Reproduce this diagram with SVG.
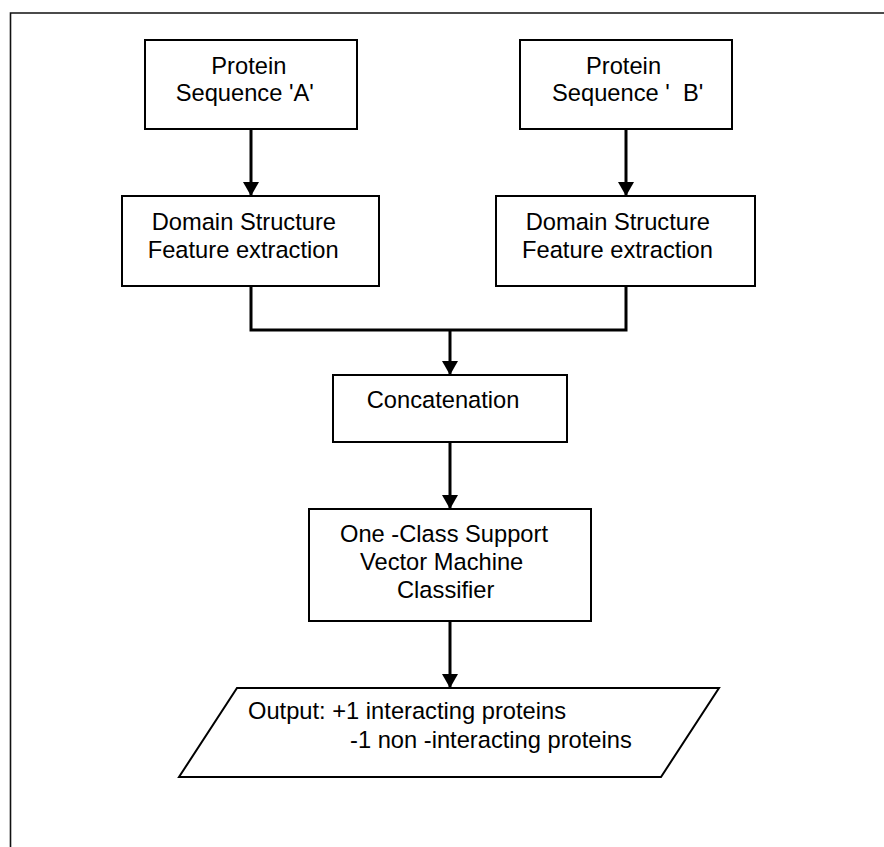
<svg xmlns="http://www.w3.org/2000/svg" width="884" height="847" viewBox="0 0 884 847">
  <style>
    .box { fill: #fff; stroke: #000; stroke-width: 2; }
    .lbl { font-family: "Liberation Sans", Arial, sans-serif; font-size: 23.7px; fill: #000; }
    .wire { fill: none; stroke: #000; stroke-width: 3; }
    .frame { fill: none; stroke: #111; stroke-width: 1.6; }
  </style>
  <defs>
    <marker id="arrow" markerUnits="userSpaceOnUse" markerWidth="14" markerHeight="16" refX="14" refY="8" orient="auto">
      <path d="M0,0 L14,8 L0,16 z" fill="#000"/>
    </marker>
  </defs>

  <rect x="0" y="0" width="884" height="847" fill="#fff"/>
  <!-- outer frame (open to the right and bottom) -->
  <path class="frame" d="M10.5,847 V13 H884"/>

  <!-- connectors -->
  <g id="connectors">
    <line class="wire" x1="251" y1="130" x2="251" y2="196" marker-end="url(#arrow)"/>
    <line class="wire" x1="626" y1="130" x2="626" y2="196" marker-end="url(#arrow)"/>
    <path class="wire" d="M251,286 V330 H626 V286"/>
    <line class="wire" x1="450" y1="330" x2="450" y2="375" marker-end="url(#arrow)"/>
    <line class="wire" x1="450" y1="442" x2="450" y2="509" marker-end="url(#arrow)"/>
    <line class="wire" x1="450" y1="621" x2="450" y2="688" marker-end="url(#arrow)"/>
  </g>

  <g id="seqA">
    <rect class="box" x="145" y="40" width="212" height="89"/>
    <text class="lbl" x="211.3" y="73.5">Protein</text>
    <text class="lbl" x="175.7" y="101.3">Sequence 'A'</text>
  </g>

  <g id="seqB">
    <rect class="box" x="520" y="40" width="212" height="89"/>
    <text class="lbl" x="586" y="73.5">Protein</text>
    <text class="lbl" x="552" y="101.3" xml:space="preserve">Sequence '  B'</text>
  </g>

  <g id="featA">
    <rect class="box" x="122" y="196" width="257" height="90"/>
    <text class="lbl" x="151.7" y="230">Domain Structure</text>
    <text class="lbl" x="147.7" y="258">Feature extraction</text>
  </g>

  <g id="featB">
    <rect class="box" x="496" y="196" width="259" height="90"/>
    <text class="lbl" x="525.7" y="230">Domain Structure</text>
    <text class="lbl" x="522" y="258">Feature extraction</text>
  </g>

  <g id="concat">
    <rect class="box" x="333" y="375" width="234" height="67"/>
    <text class="lbl" x="366.7" y="408">Concatenation</text>
  </g>

  <g id="svm">
    <rect class="box" x="309" y="509" width="282" height="112"/>
    <text class="lbl" x="340" y="541.7">One -Class Support</text>
    <text class="lbl" x="360" y="570">Vector Machine</text>
    <text class="lbl" x="397" y="598">Classifier</text>
  </g>

  <g id="output">
    <polygon class="box" points="237,688 719,688 661,777 179,777"/>
    <text class="lbl" x="248" y="719.3">Output: +1 interacting proteins</text>
    <text class="lbl" x="350" y="748.3">-1 non -interacting proteins</text>
  </g>
</svg>
